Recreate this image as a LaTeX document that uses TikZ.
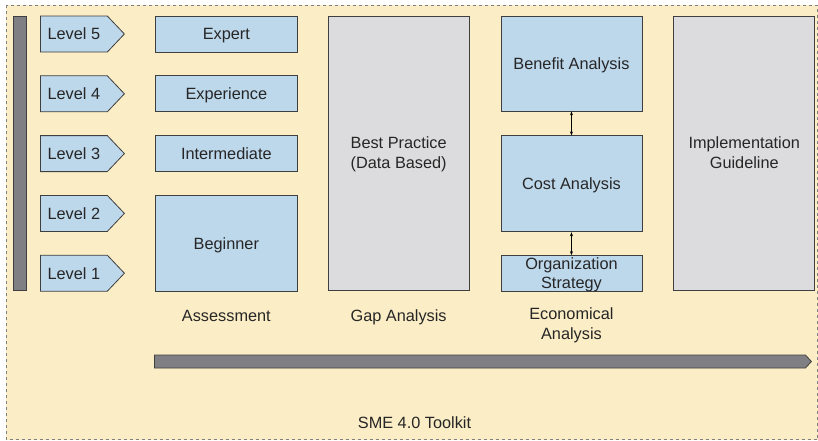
\documentclass[tikz,border=0pt]{standalone}
\usepackage{fontspec}
\setmainfont{Liberation Sans}
\usetikzlibrary{arrows.meta,positioning,shapes.symbols}
\definecolor{smecream}{HTML}{FBEDC5}
\definecolor{smeblue}{HTML}{BDD7EB}
\definecolor{smegrey}{HTML}{DCDCDE}
\definecolor{smebar}{HTML}{808084}
\definecolor{smeline}{HTML}{3F3F3F}
\definecolor{smetext}{HTML}{262626}

\begin{document}
\begin{tikzpicture}[
    x=1pt, y=-1pt,
    node distance=23pt and 30pt,
    txt/.style={font=\fontsize{16.3}{20}\selectfont, text=smetext},
    one/.style={text height=11.7pt, text depth=0pt},
    two/.style={align=center, text height=31.7pt, text depth=0pt},
    box/.style={txt, one, draw=smeline, line width=0.8pt, fill=smeblue, inner sep=0pt,
                minimum width=142pt, minimum height=36pt},
    tall/.style={box, fill=smegrey, minimum height=274pt},
    lvl/.style={txt, one, draw=smeline, line width=0.8pt, fill=smeblue, shape=signal,
                signal to=east, signal from=nowhere, signal pointer angle=93,
                inner sep=0pt, minimum width=84pt, minimum height=36pt},
    bar/.style={draw=smeline, line width=0.8pt, fill=smebar, inner sep=0pt},
    dbl/.style={{Stealth[length=4pt,width=3pt]}-{Stealth[length=4pt,width=3pt]}, line width=0.6pt, color=black}
  ]
  \useasboundingbox (0,0) rectangle (818,440);
  % frame
  \draw[fill=smecream, draw=gray, dashed, line width=0.8pt] (6,5) rectangle (817.5,439.5);
  \node[bar, minimum width=13pt, minimum height=274pt] (scale) at (19.5,153) {};
  % levels
  \node[lvl, anchor=west] (l5) at (40,34) {Level 5};
  \node[lvl, below=of l5] (l4) {Level 4};
  \node[lvl, below=of l4] (l3) {Level 3};
  \node[lvl, below=of l3] (l2) {Level 2};
  \node[lvl, below=of l2] (l1) {Level 1};
  % assessment
  \node[box, right=of l5] (expert) {Expert};
  \node[box, right=of l4] (exper) {Experience};
  \node[box, right=of l3] (inter) {Intermediate};
  \node[box, minimum height=96pt, below=of inter] (begin) {Beginner};
  \node[tall, two, minimum width=141pt, anchor=north west] (best) at ([xshift=30pt]expert.north east) {Best Practice\\(Data Based)};
  % economical
  \node[box, minimum width=141pt, minimum height=95pt, anchor=north west] (benefit) at ([xshift=31pt]best.north east) {Benefit Analysis};
  \node[box, minimum width=141pt, minimum height=96pt, below=24pt of benefit] (cost) {Cost Analysis};
  \node[box, two, text height=30.7pt, minimum width=141pt, below=of cost, font=\fontsize{16.3}{19}\selectfont] (org) {Organization\\Strategy};
  \node[tall, two, minimum width=141pt, anchor=north west] (impl) at ([xshift=31pt]benefit.north east) {Implementation\\Guideline};
  \draw[dbl] (benefit) -- (cost);
  \draw[dbl] (cost) -- (org);
  % captions
  \node[txt, one, anchor=center] (capa) at ([yshift=-24pt]begin.south) {Assessment};
  \node[txt, one] (capg) at (capa -| best) {Gap Analysis};
  \node[txt, two] (cape) at ([yshift=-8pt]capa -| org) {Economical\\Analysis};
  % flow bar
  \node[bar, shape=signal, signal to=east, signal from=nowhere, signal pointer angle=95,
        minimum width=657pt, minimum height=13pt, anchor=west] (flow) at (154,361.5) {};
  \node[txt, one] (toolkit) at (414.5,423) {SME 4.0 Toolkit};
\end{tikzpicture}
\end{document}
